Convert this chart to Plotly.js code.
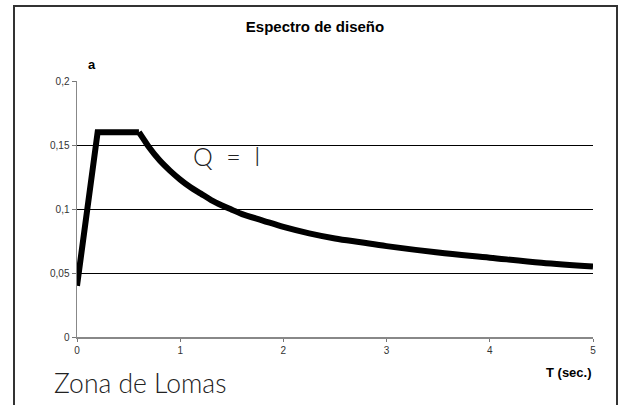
<!DOCTYPE html>
<html>
<head>
<meta charset="utf-8">
<script src="https://cdn.plot.ly/plotly-3.0.1.min.js"></script>
<style>
html,body{margin:0;padding:0;background:#fff;}
#chart{width:622px;height:405px;}
</style>
</head>
<body>
<div id="chart"></div>
<script>
// Data
// rising branch and plateau (straight segments)
const periodRise = [0, 0.2, 0.6];
const accelRise  = [0.04, 0.16, 0.16];
// descending branch (smooth curve)
const periodDecay = [0.6, 0.65, 0.7, 0.8, 0.9, 1.0, 1.1, 1.2, 1.3, 1.4, 1.5, 1.6, 1.8, 2.0, 2.25, 2.5, 2.75, 3.0, 3.5, 4.0, 4.5, 5.0];
const accelDecay  = [0.16, 0.154, 0.148, 0.138, 0.130, 0.123, 0.117, 0.112, 0.107, 0.103, 0.0995, 0.096, 0.091, 0.086, 0.081, 0.077, 0.074, 0.071, 0.066, 0.062, 0.058, 0.055];
const xTickVals = [0, 1, 2, 3, 4, 5];
const xTickText = ['0', '1', '2', '3', '4', '5'];
const yTickVals = [0, 0.05, 0.1, 0.15, 0.2];
const yTickText = ['0', '0,05', '0,1', '0,15', '0,2'];

const lineStyle = {color: '#000', width: 6};
const traces = [
  {x: periodRise, y: accelRise, type: 'scatter', mode: 'lines', line: Object.assign({shape: 'linear'}, lineStyle), hoverinfo: 'skip', cliponaxis: false},
  {x: periodDecay, y: accelDecay, type: 'scatter', mode: 'lines', line: Object.assign({shape: 'spline', smoothing: 1}, lineStyle), hoverinfo: 'skip', cliponaxis: false}
];

const W = 516, H = 256, L = 77, T = 81;
const px = v => (v - L) / W;
const py = v => (T + H - v) / H;

const handFont = {family: 'Lato, Open Sans, sans-serif', weight: 300, color: '#222'};

const layout = {
  width: 622,
  height: 405,
  margin: {l: 77, r: 29, t: 81, b: 68},
  paper_bgcolor: '#fff',
  plot_bgcolor: '#fff',
  showlegend: false,
  font: {family: 'Liberation Sans, Arial, sans-serif', color: '#000'},
  title: {
    text: '<b>Espectro de diseño</b>',
    font: {size: 15, family: 'Liberation Sans, Arial, sans-serif', color: '#000'},
    x: 315 / 622, xanchor: 'center', xref: 'container',
    y: 1 - 27/405, yanchor: 'middle', yref: 'container'
  },
  xaxis: {
    range: [0, 5],
    tickvals: xTickVals,
    ticktext: xTickText,
    ticks: 'outside', ticklen: 3, tickcolor: '#777', tickwidth: 1,
    showline: true, linecolor: '#888', linewidth: 1.5,
    showgrid: false, zeroline: false,
    tickfont: {size: 10, color: '#333'},
    fixedrange: true
  },
  yaxis: {
    range: [0, 0.2],
    tickvals: yTickVals,
    ticktext: yTickText,
    ticks: 'outside', ticklen: 4, tickcolor: '#777', tickwidth: 1,
    showline: true, linecolor: '#888', linewidth: 1.5,
    showgrid: true, gridcolor: '#000', gridwidth: 1,
    zeroline: false,
    tickfont: {size: 10, color: '#333'},
    fixedrange: true
  },
  annotations: [
    {text: '<b>a</b>', xref: 'paper', yref: 'paper', x: px(92), y: py(64), xanchor: 'center', yanchor: 'middle', showarrow: false, font: {size: 13, color: '#000'}},
    {text: '<b>T (sec.)</b>', xref: 'paper', yref: 'paper', x: px(594), y: py(372), xanchor: 'right', yanchor: 'middle', showarrow: false, font: {size: 13, color: '#000'}},
    {text: 'Q  =  l', xref: 'paper', yref: 'paper', x: px(191), y: py(156), xanchor: 'left', yanchor: 'middle', showarrow: false, font: Object.assign({size: 25}, handFont)},
    {text: 'Zona de Lomas', xref: 'paper', yref: 'paper', x: px(52), y: py(383), xanchor: 'left', yanchor: 'middle', showarrow: false, font: Object.assign({size: 26.5}, handFont)}
  ],
  shapes: [
    {type: 'rect', xref: 'paper', yref: 'paper', x0: px(14), x1: px(617), y0: -0.4, y1: py(6), line: {color: '#333', width: 2}, layer: 'below'}
  ]
};

Plotly.newPlot('chart', traces, layout, {displayModeBar: false, staticPlot: true});
</script>
</body>
</html>
